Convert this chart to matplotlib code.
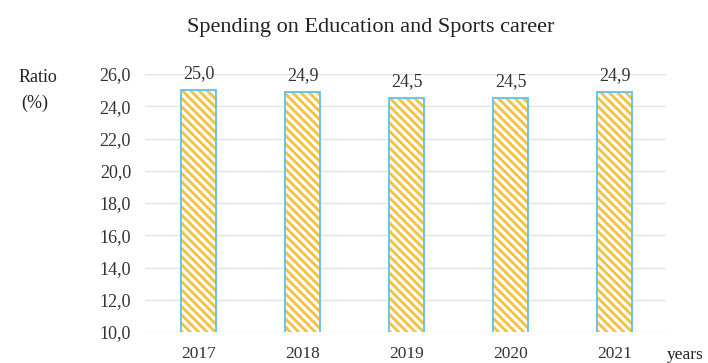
import matplotlib.pyplot as plt
from matplotlib.ticker import FuncFormatter

years = ['2017', '2018', '2019', '2020', '2021']
ratio = [25.0, 24.9, 24.5, 24.5, 24.9]
yticks = [10, 12, 14, 16, 18, 20, 22, 24, 26]

plt.rcParams['font.family'] = ['Liberation Serif', 'DejaVu Serif']
plt.rcParams['hatch.linewidth'] = 2.0

W, H = 708, 363
fig = plt.figure(figsize=(W / 100, H / 100), dpi=100)
ax = fig.add_axes([145 / W, 1 - 332 / H, (666 - 145) / W, (332 - 74) / H])

x = range(len(years))
ax.bar(x, ratio, width=0.336, color='white', edgecolor='#F3C13E',
       hatch='\\\\\\\\', linewidth=0, zorder=2)
ax.bar(x, ratio, width=0.336, fill=False, edgecolor='#5BC3EA', linewidth=1.3, zorder=3)

for xi, v in zip(x, ratio):
    ax.annotate(f'{v:.1f}'.replace('.', ','), (xi, v), xytext=(0, 8.5),
                textcoords='offset points', ha='center', va='baseline',
                fontsize=13, color='#333333')

ax.set_ylim(10, 26)
ax.set_xlim(-0.514, 4.49)
ax.set_yticks(yticks)
ax.yaxis.set_major_formatter(FuncFormatter(lambda v, p: f'{v:.1f}'.replace('.', ',')))
ax.set_xticks(list(x))
ax.set_xticklabels(years)
ax.tick_params(axis='both', length=0, labelcolor='#333333')
ax.tick_params(axis='x', pad=10, labelsize=12.5)
ax.tick_params(axis='y', pad=10, labelsize=13)
ax.grid(axis='y', color='#E3E3E3', linewidth=1, zorder=0)
ax.set_axisbelow(True)
for s in ax.spines.values():
    s.set_visible(False)

fig.text(371 / W, 1 - 32 / H, 'Spending on Education and Sports career',
         ha='center', va='baseline', fontsize=16, color='#222222')
fig.text(37.5 / W, 1 - 78 / H, 'Ratio', ha='center', va='center',
         fontsize=13, color='#222222')
fig.text(35 / W, 1 - 103 / H, '(%)', ha='center', va='center',
         fontsize=13, color='#222222')
fig.text(685 / W, 1 - 355 / H, 'years', ha='center', va='center',
         fontsize=12.5, color='#222222')

fig.savefig('out.png', dpi=100)
